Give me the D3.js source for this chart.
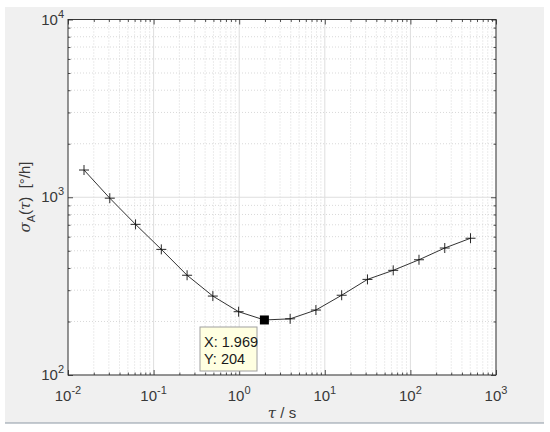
<!DOCTYPE html>
<html><head><meta charset="utf-8">
<script src="https://cdn.jsdelivr.net/npm/d3@7"></script>
<style>body{margin:0;background:#fff}svg{display:block}</style>
</head><body>
<svg id="c" width="550" height="432"></svg>
<script>
const tauValues = [0.01538, 0.03077, 0.06153, 0.1231, 0.2461, 0.4922, 0.9844, 1.969, 3.938, 7.875, 15.75, 31.50, 63.00, 126.0, 252.0, 504.0];
const sigmaValues = [1423, 988, 704, 509, 364, 278, 227, 204, 207, 232, 281, 345, 388, 445, 518, 588];
const xTickExps = [-2, -1, 0, 1, 2, 3];
const yTickExps = [2, 3, 4];
const tipX = "1.969", tipY = "204";
const tipIndex = 7;

const svg = d3.select("#c");
const m = {l: 68, r: 496, t: 19.5, b: 375};
const font = "'Liberation Sans', Arial, sans-serif";
const ink = "#262626";
const txt = "#383838";

svg.append("rect").attr("x",5).attr("y",7).attr("width",539).attr("height",416).attr("fill","#f0f0f0");
svg.append("line").attr("x1",5).attr("x2",544).attr("y1",423).attr("y2",423).attr("stroke","#8c98a4").attr("stroke-width",1.2);

const x = d3.scaleLog().domain([1e-2, 1e3]).range([m.l, m.r]);
const y = d3.scaleLog().domain([1e2, 1e4]).range([m.b, m.t]);

svg.append("rect").attr("x",m.l).attr("y",m.t).attr("width",m.r-m.l).attr("height",m.b-m.t).attr("fill","#fff");

const xMinor = [], yMinor = [];
for (let e=-2;e<3;e++) for (let k=2;k<=9;k++) xMinor.push(k*Math.pow(10,e));
for (let e=2;e<4;e++) for (let k=2;k<=9;k++) yMinor.push(k*Math.pow(10,e));
const xMajor = xTickExps.map(e=>Math.pow(10,e));
const yMajor = yTickExps.map(e=>Math.pow(10,e));

const g = svg.append("g");
g.selectAll(".xmg").data(xMinor).join("line")
 .attr("x1",d=>x(d)).attr("x2",d=>x(d)).attr("y1",m.t).attr("y2",m.b)
 .attr("stroke","#cfcfcf").attr("stroke-width",0.8).attr("stroke-dasharray","1,2");
g.selectAll(".ymg").data(yMinor).join("line")
 .attr("y1",d=>y(d)).attr("y2",d=>y(d)).attr("x1",m.l).attr("x2",m.r)
 .attr("stroke","#cfcfcf").attr("stroke-width",0.8).attr("stroke-dasharray","1,2");
g.selectAll(".xMg").data(xMajor).join("line")
 .attr("x1",d=>x(d)).attr("x2",d=>x(d)).attr("y1",m.t).attr("y2",m.b)
 .attr("stroke","#dedede").attr("stroke-width",1);
g.selectAll(".yMg").data(yMajor).join("line")
 .attr("y1",d=>y(d)).attr("y2",d=>y(d)).attr("x1",m.l).attr("x2",m.r)
 .attr("stroke","#dedede").attr("stroke-width",1);

function addAxis(axisFn, scale, vals, size, transform){
  const a = axisFn(scale).tickValues(vals).tickSize(size).tickFormat("");
  const ag = svg.append("g").attr("transform",transform).call(a);
  ag.select(".domain").remove();
  ag.selectAll("line").attr("stroke",ink).attr("stroke-width",0.8);
  return ag;
}
addAxis(d3.axisTop, x, xMajor, 5, `translate(0,${m.b})`);
addAxis(d3.axisTop, x, xMinor, 2.5, `translate(0,${m.b})`);
addAxis(d3.axisBottom, x, xMajor, 5, `translate(0,${m.t})`);
addAxis(d3.axisBottom, x, xMinor, 2.5, `translate(0,${m.t})`);
addAxis(d3.axisRight, y, yMajor, 5, `translate(${m.l},0)`);
addAxis(d3.axisRight, y, yMinor, 2.5, `translate(${m.l},0)`);
addAxis(d3.axisLeft, y, yMajor, 5, `translate(${m.r},0)`);
addAxis(d3.axisLeft, y, yMinor, 2.5, `translate(${m.r},0)`);

svg.append("rect").attr("x",m.l).attr("y",m.t).attr("width",m.r-m.l).attr("height",m.b-m.t)
 .attr("fill","none").attr("stroke",ink).attr("stroke-width",0.9);

const xl = svg.append("g").attr("font-family",font).attr("fill",txt);
xTickExps.forEach(e=>{
  const t = xl.append("text").attr("x",x(Math.pow(10,e))).attr("y",401).attr("text-anchor","middle").attr("font-size",15);
  t.append("tspan").text("10");
  t.append("tspan").attr("dy",-7).attr("font-size",11).text(e);
});
yTickExps.forEach(e=>{
  const t = xl.append("text").attr("x",64).attr("y",y(Math.pow(10,e))+5).attr("text-anchor","end").attr("font-size",15);
  t.append("tspan").text("10");
  t.append("tspan").attr("dy",-7).attr("font-size",11).text(e);
});

const xlab = svg.append("text").attr("x",282).attr("y",418).attr("text-anchor","middle")
 .attr("font-family",font).attr("font-size",15).attr("fill",txt);
xlab.append("tspan").attr("font-family","'DejaVu Serif', serif").attr("font-style","italic").text("τ");
xlab.append("tspan").text(" / s");

const ylab = svg.append("text").attr("transform","translate(30,197) rotate(-90)").attr("text-anchor","middle")
 .attr("font-family",font).attr("font-size",15).attr("fill",txt).attr("xml:space","preserve");
ylab.append("tspan").attr("font-family","'DejaVu Serif', serif").attr("font-style","italic").text("σ");
ylab.append("tspan").attr("dy",5).attr("font-size",11).text("A");
ylab.append("tspan").attr("dy",-5).text("(");
ylab.append("tspan").attr("font-family","'DejaVu Serif', serif").attr("font-style","italic").text("τ");
ylab.append("tspan").text(")\u00a0\u00a0[°/h]");

const pts = tauValues.map((t,i)=>[t, sigmaValues[i]]);
svg.append("path").datum(pts)
 .attr("d", d3.line().x(d=>x(d[0])).y(d=>y(d[1])))
 .attr("fill","none").attr("stroke","#333").attr("stroke-width",1);
const mk = svg.append("g").attr("stroke","#111").attr("stroke-width",0.9);
pts.forEach((d,i)=>{
  if (i===tipIndex) return;
  const cx = x(d[0]), cy = y(d[1]);
  mk.append("line").attr("x1",cx-5).attr("x2",cx+5).attr("y1",cy).attr("y2",cy);
  mk.append("line").attr("x1",cx).attr("x2",cx).attr("y1",cy-5).attr("y2",cy+5);
});
const tp = pts[tipIndex];
svg.append("rect").attr("x",x(tp[0])-4.5).attr("y",y(tp[1])-4.5).attr("width",9).attr("height",9).attr("fill","#000");

const bx = 200, by = 327;
svg.append("rect").attr("x",bx).attr("y",by).attr("width",57).attr("height",44)
 .attr("fill","#ffffe1").attr("stroke","#a0a0a0").attr("stroke-width",1);
svg.append("text").attr("x",bx+4).attr("y",by+20).attr("font-family",font).attr("font-size",14.5).attr("fill","#1a1a1a").text("X: "+tipX);
svg.append("text").attr("x",bx+4).attr("y",by+37).attr("font-family",font).attr("font-size",14.5).attr("fill","#1a1a1a").text("Y: "+tipY);
</script>
</body></html>
